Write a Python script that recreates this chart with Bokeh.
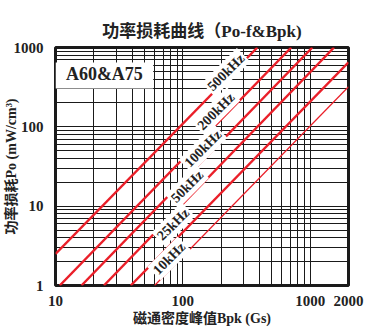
from bokeh.plotting import figure
from bokeh.models import FixedTicker, Label, BoxAnnotation, PrintfTickFormatter, ColumnDataSource
from bokeh.embed import file_html
from bokeh.resources import INLINE

# ---- data ----
freq_labels = ["500kHz", "200kHz", "100kHz", "50kHz", "25kHz", "10kHz"]
b_start = [10, 10.8, 16, 24, 39, 60]          # Bpk (Gs) at start of each line
po_start = [2.5, 1, 1, 1, 1, 1]                # Po (mW/cm3) at start
b_end = [385, 710, 1040, 1540, 2000, 2000]     # Bpk at end
po_end = [1000, 1000, 1000, 1000, 650, 320]    # Po at end
line_widths = [2.4, 2.4, 2.4, 2.4, 2.4, 1.2]

label_b = [218, 182, 144, 108, 84, 78]
label_po = [485, 156, 53, 17.7, 5.9, 2.19]

x_ticks = [10, 100, 1000, 2000]
x_minor = [20, 30, 40, 50, 60, 70, 80, 90, 200, 300, 400, 500, 600, 700, 800, 900]
y_ticks = [1, 10, 100, 1000]
y_minor = [2, 3, 4, 5, 6, 7, 8, 9, 20, 30, 40, 50, 60, 70, 80, 90,
           200, 300, 400, 500, 600, 700, 800, 900]

title_text = "功率损耗曲线（Po-f&Bpk)"
x_label = "磁通密度峰值Bpk (Gs)"
y_label = "功率损耗Po (mW/cm³)"
material = "A60&A75"

SERIF = "'Liberation Serif', 'Noto Sans CJK SC'"
RED = "#ea1f29"

p = figure(width=369, height=334, x_axis_type="log", y_axis_type="log",
           x_range=(10, 2000), y_range=(1, 1000),
           output_backend="svg", toolbar_location=None,
           min_border_left=54, min_border_right=21,
           min_border_top=47, min_border_bottom=49)

p.title.text = title_text
p.title.align = "center"
p.title.text_font = SERIF
p.title.text_font_size = "17px"
p.title.text_font_style = "bold"
p.title.text_color = "#222222"
p.title.standoff = 14

for ax, ticks, minor in ((p.xaxis[0], x_ticks, x_minor), (p.yaxis[0], y_ticks, y_minor)):
    ax.ticker = FixedTicker(ticks=ticks, minor_ticks=minor)
    ax.formatter = PrintfTickFormatter(format="%d")
    ax.axis_line_color = None
    ax.major_tick_line_color = None
    ax.minor_tick_line_color = None
    ax.major_label_text_font = SERIF
    ax.major_label_text_font_size = "15px"
    ax.major_label_text_font_style = "bold"
    ax.major_label_text_color = "#222222"
    ax.axis_label_text_font = SERIF
    ax.axis_label_text_font_size = "14px"
    ax.axis_label_text_font_style = "bold"
    ax.axis_label_text_color = "#222222"

p.xaxis.axis_label = x_label
p.yaxis.axis_label = y_label
p.xaxis.major_label_standoff = 4
p.yaxis.major_label_standoff = 6
p.xaxis.axis_label_standoff = 2
p.yaxis.axis_label_standoff = -8

for g in (p.xgrid[0], p.ygrid[0]):
    g.grid_line_color = "#1a1a1a"
    g.grid_line_width = 1
    g.minor_grid_line_color = "#1a1a1a"
    g.minor_grid_line_width = 1

p.outline_line_color = "#1a1a1a"
p.outline_line_width = 3
p.background_fill_color = "white"

src = ColumnDataSource(dict(x0=b_start, y0=po_start, x1=b_end, y1=po_end, w=line_widths))
p.segment(x0="x0", y0="y0", x1="x1", y1="y1", source=src, line_color=RED, line_width="w")

# material box
p.add_layout(BoxAnnotation(left=10, right=58.5, bottom=305, top=649,
                           fill_color="white", fill_alpha=1, line_color=None))
p.add_layout(Label(x=24.2, y=458, text=material, text_align="center", text_baseline="middle",
                   text_font="Liberation Serif", text_font_size="18px", text_font_style="bold",
                   text_color="#222222"))
p.segment(x0=[11.8], y0=[352], x1=[49.7], y1=[352], line_color="#222222", line_width=1.2)

for t, bx, py in zip(freq_labels, label_b, label_po):
    p.add_layout(Label(x=bx, y=py, text=t, angle=45, angle_units="deg",
                       text_align="center", text_baseline="middle",
                       text_font="Liberation Serif", text_font_size="14px",
                       text_font_style="bold", text_color="#222222",
                       background_fill_color="white", background_fill_alpha=1,
                       padding=2))

open("out.html", "w").write(file_html(p, INLINE))
